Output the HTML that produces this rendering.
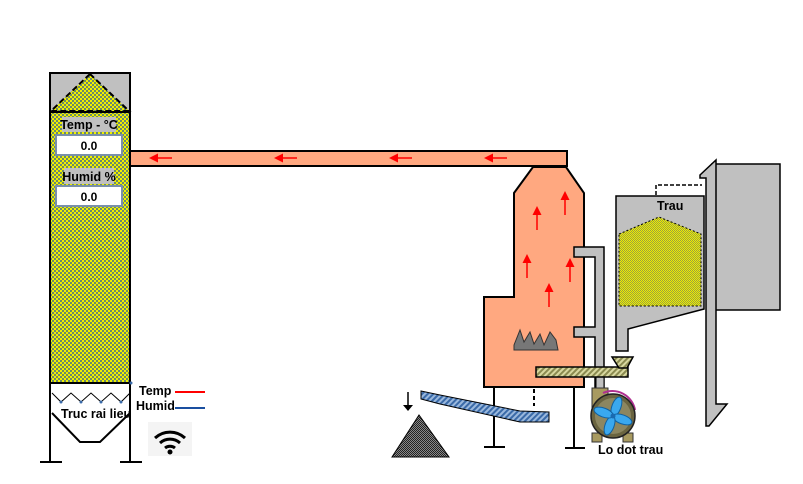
<!DOCTYPE html>
<html><head><meta charset="utf-8"><style>
html,body{margin:0;padding:0;background:#fff;width:803px;height:484px;overflow:hidden}
svg text{font-family:"Liberation Sans",sans-serif;font-weight:bold}
</style></head><body>
<svg width="803" height="484" viewBox="0 0 803 484" xmlns="http://www.w3.org/2000/svg">
<defs>
<pattern id="chk" width="4" height="4" patternUnits="userSpaceOnUse">
<rect width="4" height="4" fill="#f0f000"/><rect width="2" height="2" fill="#6a8a6a"/><rect x="2" y="2" width="2" height="2" fill="#6a8a6a"/></pattern>
<pattern id="chk2" width="2" height="2" patternUnits="userSpaceOnUse">
<rect width="2" height="2" fill="#f0f000"/><rect width="1" height="1" fill="#9aa040"/><rect x="1" y="1" width="1" height="1" fill="#9aa040"/></pattern>
<pattern id="blueh" width="4" height="4" patternUnits="userSpaceOnUse" patternTransform="rotate(45)">
<rect width="4" height="4" fill="#9ab8dd"/><rect width="2" height="4" fill="#3a6aa8"/></pattern>
<pattern id="oliveh" width="4" height="4" patternUnits="userSpaceOnUse" patternTransform="rotate(45)">
<rect width="4" height="4" fill="#d8d8a0"/><rect width="2" height="4" fill="#8a8a50"/></pattern>
<pattern id="dk" width="2" height="2" patternUnits="userSpaceOnUse">
<rect width="2" height="2" fill="#888"/><rect width="1" height="1" fill="#222"/><rect x="1" y="1" width="1" height="1" fill="#222"/></pattern>
<marker id="ar" markerWidth="6" markerHeight="6" refX="0" refY="3" orient="auto"><path d="M0,0 L6,3 L0,6 z" fill="red"/></marker>
</defs>

<!-- silo -->
<rect x="50" y="73" width="80" height="310" fill="url(#chk)" stroke="#000" stroke-width="2"/>
<rect x="50" y="73" width="80" height="39" fill="#c0c0c0" stroke="#000" stroke-width="2"/>
<polygon points="90,74 51,111 129,111" fill="url(#chk)" stroke="#000" stroke-width="2" stroke-dasharray="6,3"/>
<line x1="50" y1="112" x2="130" y2="112" stroke="#000" stroke-width="2"/>
<rect x="62" y="117" width="54" height="15" fill="#c0c0c0"/>
<text x="89" y="129" font-size="12.5" text-anchor="middle">Temp - °C</text>
<rect x="56" y="135" width="66" height="20" fill="#fff" stroke="#7a90a8" stroke-width="2"/>
<text x="89" y="150" font-size="12" text-anchor="middle">0.0</text>
<rect x="64" y="168" width="50" height="16" fill="#c0c0c0"/>
<text x="89" y="181" font-size="12.5" text-anchor="middle">Humid %</text>
<rect x="56" y="186" width="66" height="20" fill="#fff" stroke="#7a90a8" stroke-width="2"/>
<text x="89" y="201" font-size="12" text-anchor="middle">0.0</text>
<line x1="50" y1="383" x2="50" y2="462" stroke="#000" stroke-width="2"/>
<line x1="130" y1="383" x2="130" y2="462" stroke="#000" stroke-width="2"/>
<line x1="40" y1="462" x2="62" y2="462" stroke="#000" stroke-width="2"/>
<line x1="120" y1="462" x2="142" y2="462" stroke="#000" stroke-width="2"/>
<polyline points="52,393 61,402 71,393 81,402 91,393 101,402 111,393 121,402 130,393" fill="none" stroke="#000" stroke-width="1"/>
<g fill="#3a6aa8"><circle cx="61" cy="402" r="1.5"/><circle cx="81" cy="402" r="1.5"/><circle cx="101" cy="402" r="1.5"/><circle cx="121" cy="402" r="1.5"/><circle cx="131" cy="383" r="1.5"/></g>
<polyline points="52,413 80,442 100,442 130,413" fill="none" stroke="#000" stroke-width="2"/>
<text x="61" y="418" font-size="12.5">Truc rai lieu</text>
<text x="139" y="395" font-size="12.5">Temp</text>
<line x1="175" y1="392" x2="205" y2="392" stroke="red" stroke-width="2"/>
<text x="136" y="410" font-size="12.5">Humid</text>
<line x1="175" y1="408" x2="205" y2="408" stroke="#1a4fa0" stroke-width="2"/>
<rect x="148" y="422" width="44" height="34" fill="#f4f4f4"/>
<path d="M155,438 A22,22 0 0 1 185,438" fill="none" stroke="#000" stroke-width="3"/>
<path d="M160,443 A15,15 0 0 1 180,443" fill="none" stroke="#000" stroke-width="3"/>
<path d="M165,448 A8,8 0 0 1 175,448" fill="none" stroke="#000" stroke-width="3"/>
<circle cx="170" cy="452" r="2.5" fill="#000"/>

<!-- duct -->
<rect x="130" y="151" width="437" height="15" fill="#ffa880" stroke="#000" stroke-width="2"/>
<g stroke="red" stroke-width="1.5">
<line x1="172" y1="158" x2="158" y2="158" marker-end="url(#ar)"/>
<line x1="297" y1="158" x2="283" y2="158" marker-end="url(#ar)"/>
<line x1="412" y1="158" x2="398" y2="158" marker-end="url(#ar)"/>
<line x1="507" y1="158" x2="493" y2="158" marker-end="url(#ar)"/>
</g>

<!-- furnace -->
<polygon points="533,167 566,167 584,193 584,387 484,387 484,297 514,297 514,193" fill="#ffa880" stroke="#000" stroke-width="2"/>
<g stroke="red" stroke-width="1.5">
<line x1="565" y1="215" x2="565" y2="200" marker-end="url(#ar)"/>
<line x1="537" y1="230" x2="537" y2="215" marker-end="url(#ar)"/>
<line x1="527" y1="278" x2="527" y2="263" marker-end="url(#ar)"/>
<line x1="570" y1="282" x2="570" y2="267" marker-end="url(#ar)"/>
<line x1="549" y1="307" x2="549" y2="292" marker-end="url(#ar)"/>
</g>
<path d="M514,345 L520,330 L524,342 L530,332 L534,344 L540,334 L544,345 L550,332 L556,340 L558,350 L514,350 z" fill="#777" stroke="#333" stroke-width="1"/>
<line x1="494" y1="387" x2="494" y2="447" stroke="#000" stroke-width="2"/>
<line x1="484" y1="447" x2="505" y2="447" stroke="#000" stroke-width="2"/>
<line x1="574" y1="387" x2="574" y2="448" stroke="#000" stroke-width="2"/>
<line x1="565" y1="448" x2="585" y2="448" stroke="#000" stroke-width="2"/>
<line x1="534" y1="389" x2="534" y2="406" stroke="#000" stroke-width="2" stroke-dasharray="4,3"/>

<!-- chute & pile -->
<polygon points="421,391 440,395 520,411 549,412 549,422 520,422 440,404 421,399" fill="url(#blueh)" stroke="#000" stroke-width="1"/>
<line x1="408" y1="392" x2="408" y2="406" stroke="#000" stroke-width="1.5"/>
<polygon points="403,405 413,405 408,411" fill="#000"/>
<polygon points="392,457 419,415 449,457" fill="url(#dk)" stroke="#000" stroke-width="1"/>

<!-- gray pipe -->
<path d="M574,247 L604,247 L604,387 L595,387 L595,337 L574,337 L574,327 L595,327 L595,257 L574,257 z" fill="#c0c0c0" stroke="#000" stroke-width="1.5"/>
<rect x="596" y="377" width="8" height="12" fill="#c0c0c0" stroke="#000"/>

<!-- screw -->
<rect x="536" y="367" width="92" height="10" fill="url(#oliveh)" stroke="#000" stroke-width="1.5"/>
<polygon points="612,357 633,357 627,368 619,368" fill="url(#oliveh)" stroke="#000" stroke-width="1.5"/>

<!-- fan -->
<rect x="592" y="388" width="16" height="22" fill="#a89a60" stroke="#333"/>
<path d="M603,393 A23,23 0 0 1 635,410" fill="none" stroke="#b03090" stroke-width="2"/>
<rect x="592" y="433" width="10" height="9" fill="#a89a60" stroke="#333"/>
<rect x="623" y="433" width="10" height="9" fill="#a89a60" stroke="#333"/>
<circle cx="613" cy="416" r="22" fill="#6a6440" stroke="#222" stroke-width="1.5"/>
<circle cx="613" cy="416" r="18" fill="#8c8660"/>
<g fill="#3aa8ee" stroke="#1060a0" stroke-width="1">
<ellipse cx="613" cy="406" rx="4.5" ry="10" transform="rotate(20 613 416)"/>
<ellipse cx="613" cy="406" rx="4.5" ry="10" transform="rotate(110 613 416)"/>
<ellipse cx="613" cy="406" rx="4.5" ry="10" transform="rotate(200 613 416)"/>
<ellipse cx="613" cy="406" rx="4.5" ry="10" transform="rotate(290 613 416)"/>
</g>
<circle cx="613" cy="416" r="2.5" fill="#1a6ab0"/>
<text x="598" y="454" font-size="12.5">Lo dot trau</text>

<!-- trau hopper -->
<polyline points="656,195 656,185 702,185" fill="none" stroke="#000" stroke-width="1.5" stroke-dasharray="4,2"/>
<polygon points="616,196 704,196 704,309 628,329 628,351 616,351" fill="#c0c0c0" stroke="#000" stroke-width="1.5"/>
<text x="657" y="210" font-size="12.5">Trau</text>
<polygon points="619,234 659,217 701,234 701,306 619,306" fill="url(#chk2)" stroke="#000" stroke-width="1" stroke-dasharray="2,2"/>

<!-- right big -->
<rect x="712" y="164" width="68" height="146" fill="#c0c0c0" stroke="#000" stroke-width="1.5"/>
<polygon points="700,175 716,160 716,404 727,404 709,426 706,426 706,178 700,178" fill="#c0c0c0" stroke="#000" stroke-width="1.5"/>
</svg>
</body></html>
